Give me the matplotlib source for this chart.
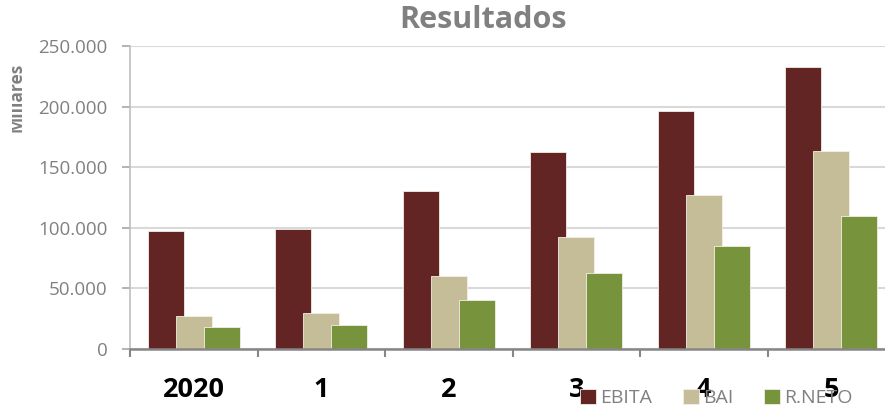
import matplotlib
matplotlib.use("Agg")
import matplotlib.pyplot as plt
import numpy as np
from matplotlib.ticker import FuncFormatter, MultipleLocator, FixedLocator
from matplotlib.transforms import Bbox

plt.rcParams['font.family'] = ['Open Sans', 'DejaVu Sans']

categories = ["2020", "1", "2", "3", "4", "5"]
series_names = ["EBITA", "BAI", "R.NETO"]
ebita = [97000, 99300, 130400, 162300, 196400, 232700]
bai = [27500, 29700, 60200, 92700, 126800, 163100]
rneto = [18200, 19500, 40400, 62400, 85200, 109500]
colors = ["#632523", "#C4BD97", "#77933C"]

W, H = 885, 411
fig = plt.figure(figsize=(W / 100, H / 100), dpi=100)
ax = fig.add_axes([130 / W, 1 - 349 / H, 765 / W, 303 / H])

x = np.arange(len(categories))
bar_w = 0.285
step = 0.22
for i, (vals, name, c) in enumerate(zip([ebita, bai, rneto], series_names, colors)):
    ax.bar(x + (i - 1) * step, vals, width=bar_w, color=c, label=name,
           edgecolor="#f2efe6", linewidth=0.6, zorder=2 + i)

ax.set_xlim(-0.5, len(categories) - 0.5)
ax.set_ylim(0, 250000)
ax.yaxis.set_major_locator(MultipleLocator(50000))
ax.yaxis.set_major_formatter(FuncFormatter(lambda v, p: f"{int(v):,}".replace(",", ".")))
ax.grid(axis="y", color="#d9d9d9", linewidth=1.5, zorder=0)
ax.set_axisbelow(True)

ax.set_xticks(x)
ax.set_xticklabels(categories, fontsize=19.5, fontweight="bold", color="black")
ax.xaxis.set_minor_locator(FixedLocator(np.arange(-0.5, len(categories), 1.0)))
ax.tick_params(axis="x", which="major", length=0, pad=20)
ax.tick_params(axis="x", which="minor", length=6, width=1.5, color="#868686", direction="out")
ax.tick_params(axis="y", length=6, width=1.2, color="#a6a6a6", labelsize=13.5,
               labelcolor="#808080", pad=10)

for s in ["top", "right"]:
    ax.spines[s].set_visible(False)
ax.spines["left"].set_color("#bfbfbf")
ax.spines["left"].set_linewidth(1.2)
ax.spines["bottom"].set_color("#868686")
ax.spines["bottom"].set_linewidth(1.8)
ax.spines["bottom"].set_zorder(10)

fig.text(483 / W, 1 - 20 / H, "Resultados", ha="center", va="center",
         fontsize=22, fontweight="bold", color="#808080")

# vertical unit label, cut off along the left side
unit = fig.text(26 / W, 1 - 97 / H, "Millares", rotation=90, ha="right", va="center",
                fontsize=12.5, fontweight="bold", color="#808080")
unit.set_clip_box(Bbox([[12, 0], [W, H]]))
unit.set_clip_on(True)

leg = fig.legend(loc="center left", bbox_to_anchor=(580 / W, 1 - 398 / H), ncol=3,
                 frameon=False, fontsize=14, handlelength=0.8, handleheight=0.8,
                 handletextpad=0.22, columnspacing=1.6, borderaxespad=0, borderpad=0)
for t in leg.get_texts():
    t.set_color("#808080")

fig.savefig("out.png", dpi=100)
